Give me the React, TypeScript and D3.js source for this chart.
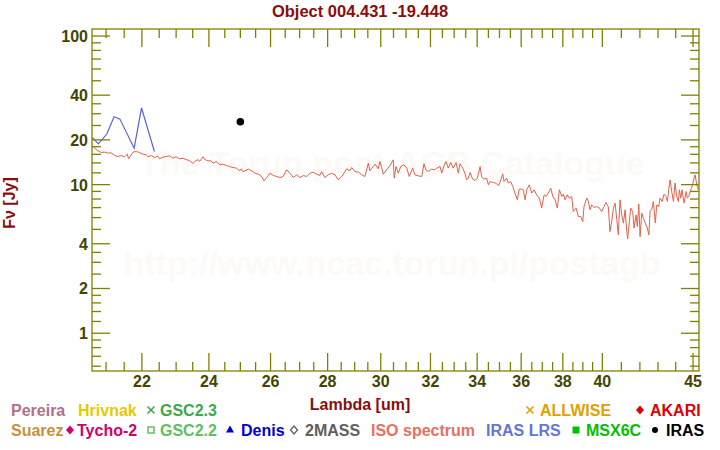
import React from 'react';
import * as d3 from 'd3';

// ---------- data ----------
const isoLambda = [
  20.64, 20.71, 20.78, 20.87, 20.96, 21.05, 21.14, 21.24, 21.33, 21.42, 21.51, 21.59, 21.62, 21.75, 21.84, 21.93,
  22.03, 22.12, 22.17, 22.27, 22.37, 22.46, 22.51, 22.61, 22.71, 22.81, 22.90, 23.00, 23.10, 23.20, 23.30, 23.41,
  23.51, 23.56, 23.66, 23.71, 23.82, 23.87, 23.97, 24.07, 24.13, 24.23, 24.34, 24.44, 24.55, 24.65, 24.76, 24.87,
  24.98, 25.03, 25.08, 25.15, 25.26, 25.37, 25.48, 25.59, 25.70, 25.78, 25.87, 25.98, 26.09, 26.21, 26.32, 26.43,
  26.55, 26.66, 26.78, 26.90, 27.01, 27.13, 27.25, 27.37, 27.48, 27.60, 27.72, 27.78, 27.90, 28.02, 28.15, 28.27,
  28.39, 28.52, 28.64, 28.70, 28.82, 28.89, 29.01, 29.14, 29.27, 29.39, 29.52, 29.58, 29.71, 29.78, 29.90, 29.97,
  30.10, 30.23, 30.36, 30.49, 30.53, 30.60, 30.69, 30.79, 30.92, 31.03, 31.13, 31.27, 31.36, 31.50, 31.64, 31.73,
  31.81, 31.91, 32.05, 32.19, 32.26, 32.40, 32.47, 32.57, 32.65, 32.75, 32.85, 32.96, 33.08, 33.18, 33.25, 33.37,
  33.47, 33.54, 33.61, 33.69, 33.80, 33.91, 34.01, 34.13, 34.20, 34.30, 34.42, 34.50, 34.57, 34.72, 34.84, 34.95,
  35.02, 35.15, 35.21, 35.33, 35.40, 35.51, 35.61, 35.71, 35.82, 35.91, 36.03, 36.10, 36.18, 36.26, 36.38, 36.50,
  36.61, 36.73, 36.86, 36.97, 37.09, 37.18, 37.29, 37.41, 37.51, 37.62, 37.73, 37.83, 37.95, 38.03, 38.11, 38.22,
  38.32, 38.44, 38.52, 38.66, 38.77, 38.89, 39.00, 39.06, 39.20, 39.28, 39.37, 39.45, 39.57, 39.71, 39.85, 39.97,
  40.09, 40.19, 40.31, 40.40, 40.49, 40.58, 40.67, 40.76, 40.84, 40.93, 41.02, 41.11, 41.20, 41.29, 41.34, 41.43,
  41.50, 41.61, 41.68, 41.79, 41.86, 41.94, 42.01, 42.10, 42.19, 42.30, 42.41, 42.49, 42.56, 42.67, 42.74, 42.85,
  42.93, 43.04, 43.11, 43.23, 43.34, 43.45, 43.53, 43.60, 43.68, 43.77, 43.87, 43.96, 44.06, 44.15, 44.21, 44.29,
  44.36, 44.48, 44.60, 44.67, 44.75, 44.87, 44.98, 45.06, 45.12, 45.22, 45.31,
];
const isoFlux = [
  18.34, 17.42, 16.89, 16.45, 16.55, 16.30, 16.37, 15.70, 15.46, 15.70, 15.39, 16.05, 14.92, 16.55, 16.71, 16.45,
  16.05, 15.88, 15.39, 15.70, 15.22, 15.56, 14.92, 15.32, 15.46, 15.63, 15.08, 15.39, 14.92, 15.08, 14.76, 14.46,
  13.87, 14.31, 14.76, 14.31, 15.39, 14.76, 14.46, 14.46, 13.96, 14.31, 13.60, 13.74, 13.45, 13.24, 13.04, 12.92,
  12.39, 12.78, 12.25, 12.39, 12.72, 12.39, 11.95, 11.77, 11.34, 10.61, 11.16, 11.95, 11.52, 11.34, 11.16, 11.34,
  12.58, 11.95, 11.16, 11.64, 11.16, 11.52, 11.34, 11.95, 12.14, 11.77, 11.52, 12.25, 11.16, 11.64, 11.95, 11.64,
  10.77, 11.34, 12.25, 12.78, 12.39, 13.04, 12.25, 12.14, 11.64, 11.34, 13.96, 12.39, 13.24, 13.74, 12.78, 14.31,
  11.77, 12.58, 13.45, 14.69, 11.06, 13.24, 11.95, 13.24, 13.60, 12.92, 11.34, 12.92, 11.64, 11.46, 11.34, 13.81,
  12.58, 12.25, 12.72, 12.58, 12.92, 13.24, 11.95, 13.39, 14.31, 12.92, 14.09, 12.92, 14.09, 11.95, 13.81, 12.92,
  11.82, 10.77, 11.06, 12.07, 10.89, 10.66, 11.06, 13.24, 11.23, 10.89, 11.06, 9.97, 10.49, 10.33, 10.24, 9.82,
  10.33, 11.82, 10.49, 11.06, 10.24, 10.49, 9.71, 8.77, 7.90, 9.33, 9.33, 9.23, 7.90, 9.23, 9.97, 8.77,
  9.23, 8.54, 8.11, 6.95, 8.54, 8.32, 8.77, 9.47, 8.32, 7.90, 6.95, 9.23, 8.32, 8.63, 7.90, 8.54,
  8.11, 8.32, 6.59, 6.95, 6.10, 6.10, 5.64, 7.12, 8.11, 7.70, 6.77, 7.31, 7.01, 7.12, 6.95, 6.59,
  7.12, 7.58, 7.12, 4.83, 5.64, 6.95, 7.51, 5.80, 4.59, 7.90, 6.26, 5.51, 6.77, 4.83, 4.32, 5.64,
  6.95, 6.59, 5.10, 6.26, 5.22, 7.39, 4.47, 6.43, 5.95, 5.51, 5.10, 4.59, 6.59, 6.95, 7.70, 5.51,
  7.31, 7.12, 8.11, 7.70, 8.63, 8.32, 7.70, 9.23, 10.77, 8.99, 7.70, 10.24, 8.32, 7.70, 9.23, 8.11,
  9.23, 7.51, 8.99, 8.11, 8.32, 9.23, 9.97, 11.06, 11.64, 9.97, 9.23,
];
const lrsLambda = [20.63, 20.79, 21.02, 21.22, 21.38, 21.78, 21.99, 22.36];
const lrsFlux = [20.8, 18.8, 21.9, 28.6, 27.6, 17.6, 32.8, 16.7];
const irasLambda = [25.0];
const irasFlux = [26.5];

const xMajorTicks = [22, 24, 26, 28, 30, 32, 34, 36, 38, 40, 45];
const xMinorTicks = [21, 21.5, 22.5, 23, 23.5, 24.5, 25, 25.5, 26.5, 27, 27.5, 28.5, 29, 29.5, 30.5, 31, 31.5,
  32.5, 33, 33.5, 34.5, 35, 35.5, 36.5, 37, 37.5, 38.5, 39, 39.5, 41, 42, 43, 44];
const yMajorTicks = [1, 2, 4, 10, 20, 40, 100];
const yMinorTicks = [0.6, 0.7, 0.8, 0.9, 1.2, 1.4, 1.6, 1.8, 2.5, 3, 3.5, 5, 6, 7, 8, 9, 12, 14, 16, 18,
  25, 30, 35, 50, 60, 70, 80, 90];

const titleText = 'Object 004.431 -19.448';
const xTitle = 'Lambda [um]';
const yTitle = 'Fν [Jy]';
const watermark1 = 'The Torun post-AGB Catalogue';
const watermark2 = 'http://www.ncac.torun.pl/postagb';

// legend: label, marker, color
const legendLabels = ['Pereira', 'Hrivnak', 'GSC2.3', 'ALLWISE', 'AKARI',
  'Suarez', 'Tycho-2', 'GSC2.2', 'Denis', '2MASS', 'ISO spectrum', 'IRAS LRS', 'MSX6C', 'IRAS'];
const legendMarkers = ['none', 'none', 'x', 'x', 'diamond',
  'none', 'diamond', 'square-open', 'triangle', 'diamond-open', 'none', 'none', 'square', 'circle'];
const legendColors = ['#b0708e', '#e8c800', '#40a848', '#e0a000', '#e00000',
  '#c89040', '#d0006a', '#60c060', '#0000d0', '#606060', '#e8705f', '#6474d8', '#00c000', '#000000'];

// ---------- layout ----------
const W = 720, H = 450;
const L = 92, R = 699, T = 29, B = 371;
const FONT = "'Liberation Sans', Arial, Helvetica, sans-serif";
const AXIS = '#808000';
const TICKTXT = '#444400';
const DARKRED = '#880e0e';

// legend layout (text x start, marker center x, row)
const legendTextX = [11, 78, 160, 540, 650, 11, 77, 160, 241, 305, 371, 486, 586, 666];
const legendMarkX = [0, 0, 151, 530, 640, 0, 70, 151, 230, 294, 0, 0, 576, 655];
const legendRow = [0, 0, 0, 0, 0, 1, 1, 1, 1, 1, 1, 1, 1, 1];

function Marker({ kind, x, y, color }: { kind: string; x: number; y: number; color: string }) {
  if (kind === 'x') {
    const s = 3.5;
    return (
      <g stroke={color} strokeWidth={1.6}>
        <line x1={x - s} y1={y - s} x2={x + s} y2={y + s} />
        <line x1={x - s} y1={y + s} x2={x + s} y2={y - s} />
      </g>
    );
  }
  if (kind === 'diamond') {
    return <path d={`M${x},${y - 4.5}L${x + 4},${y}L${x},${y + 4.5}L${x - 4},${y}Z`} fill={color} />;
  }
  if (kind === 'diamond-open') {
    return <path d={`M${x},${y - 4}L${x + 3.5},${y}L${x},${y + 4}L${x - 3.5},${y}Z`} fill="none" stroke={color} strokeWidth={1.3} />;
  }
  if (kind === 'square-open') {
    return <rect x={x - 3} y={y - 3} width={6} height={6} fill="none" stroke={color} strokeWidth={1.5} />;
  }
  if (kind === 'square') {
    return <rect x={x - 3.5} y={y - 3.5} width={7} height={7} fill={color} />;
  }
  if (kind === 'triangle') {
    return <path d={`M${x},${y - 4.5}L${x + 4},${y + 2.5}L${x - 4},${y + 2.5}Z`} fill={color} />;
  }
  if (kind === 'circle') {
    return <circle cx={x} cy={y} r={3} fill={color} />;
  }
  return null;
}

export default function App() {
  const x = d3.scaleLog().domain([20.62, 45.35]).range([L, R]);
  const y = d3.scaleLog().domain([0.557, 111.5]).range([B, T]);

  const iso = isoLambda.map((l, i) => [l, isoFlux[i]] as [number, number]);
  const lrs = lrsLambda.map((l, i) => [l, lrsFlux[i]] as [number, number]);
  const line = d3.line<[number, number]>().x(d => x(d[0])).y(d => y(d[1]));

  const majLen = 18, minLen = 9;

  return (
    <svg width={W} height={H} style={{ position: 'absolute', left: 0, top: 0, display: 'block', background: '#fff' }}
      fontFamily={FONT} fontWeight="bold">
      <defs>
        <clipPath id="plotclip">
          <rect x={L} y={T} width={R - L} height={B - T} />
        </clipPath>
      </defs>
      <rect x={0} y={0} width={W} height={H} fill="#ffffff" />

      {/* watermark */}
      <text x={392} y={175} textAnchor="middle" fontSize={34} fill="#fcfaf7">{watermark1}</text>
      <text x={392} y={275} textAnchor="middle" fontSize={34} fill="#fcfaf7">{watermark2}</text>

      {/* title */}
      <text x={360} y={17} textAnchor="middle" fontSize={16.5} fill={DARKRED}>{titleText}</text>

      {/* data */}
      <g clipPath="url(#plotclip)">
        <path d={line(iso) || ''} fill="none" stroke="#e4604c" strokeWidth={1} />
        <path d={line(lrs) || ''} fill="none" stroke="#5464e0" strokeWidth={1.2} />
        {irasLambda.map((l, i) => (
          <circle key={i} cx={x(l)} cy={y(irasFlux[i])} r={3.8} fill="#000" />
        ))}
      </g>

      {/* frame */}
      <rect x={L} y={T} width={R - L} height={B - T} fill="none" stroke={AXIS} strokeWidth={1.3} />

      {/* ticks */}
      <g stroke={AXIS} strokeWidth={1.3}>
        {xMajorTicks.map(t => (
          <g key={'xm' + t}>
            <line x1={x(t)} x2={x(t)} y1={B} y2={B - majLen} />
            <line x1={x(t)} x2={x(t)} y1={T} y2={T + majLen} />
          </g>
        ))}
        {xMinorTicks.map(t => (
          <g key={'xn' + t}>
            <line x1={x(t)} x2={x(t)} y1={B} y2={B - minLen} />
            <line x1={x(t)} x2={x(t)} y1={T} y2={T + minLen} />
          </g>
        ))}
        {yMajorTicks.map(t => (
          <g key={'ym' + t}>
            <line x1={L} x2={L + majLen} y1={y(t)} y2={y(t)} />
            <line x1={R} x2={R - majLen} y1={y(t)} y2={y(t)} />
          </g>
        ))}
        {yMinorTicks.map(t => (
          <g key={'yn' + t}>
            <line x1={L} x2={L + minLen} y1={y(t)} y2={y(t)} />
            <line x1={R} x2={R - minLen} y1={y(t)} y2={y(t)} />
          </g>
        ))}
      </g>

      {/* tick labels */}
      <g fontSize={16} fill={TICKTXT}>
        {xMajorTicks.map(t => (
          <text key={'xl' + t} x={x(t)} y={387} textAnchor="middle">{t}</text>
        ))}
        {yMajorTicks.map(t => (
          <text key={'yl' + t} x={88} y={y(t) + 6} textAnchor="end">{t}</text>
        ))}
      </g>

      {/* axis titles */}
      <text x={360} y={410} textAnchor="middle" fontSize={16} fill={DARKRED}>{xTitle}</text>
      <text transform={`translate(15,203) rotate(-90)`} textAnchor="middle" fontSize={16} fill={DARKRED}>{yTitle}</text>

      {/* legend */}
      <g fontSize={16}>
        {legendLabels.map((lab, i) => {
          const baseY = legendRow[i] === 0 ? 415.5 : 435.5;
          return (
            <g key={lab}>
              <Marker kind={legendMarkers[i]} x={legendMarkX[i]} y={baseY - 5.5} color={legendColors[i]} />
              <text x={legendTextX[i]} y={baseY} fill={legendColors[i]}>{lab}</text>
            </g>
          );
        })}
      </g>
    </svg>
  );
}
